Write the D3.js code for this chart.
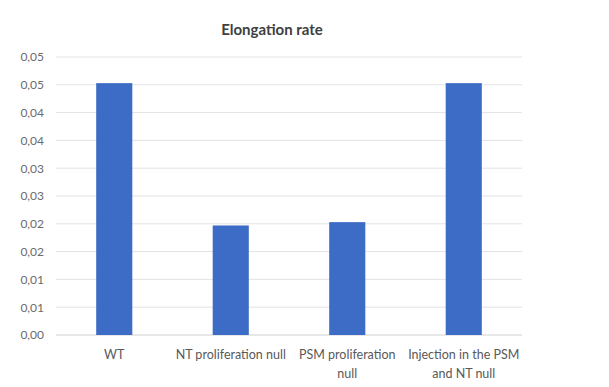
<!DOCTYPE html>
<html><head><meta charset="utf-8">
<script src="https://cdn.jsdelivr.net/npm/d3@7"></script>
<style>body{margin:0;background:#fff}svg{display:block}text{font-family:Lato,"Open Sans",sans-serif}</style>
</head><body><svg id="c" width="609" height="387"></svg>
<script>
const categories = ["WT", "NT proliferation null", "PSM proliferation null", "Injection in the PSM and NT null"];
const categoryLines = [["WT"], ["NT proliferation null"], ["PSM proliferation", "null"], ["Injection in the PSM", "and NT null"]];
const values = [0.0453, 0.0197, 0.0203, 0.0453];
const yTicks = [0, 0.005, 0.01, 0.015, 0.02, 0.025, 0.03, 0.035, 0.04, 0.045, 0.05];
const title = "Elongation rate";

const svg = d3.select("#c");
const m = {left: 56, right: 87, top: 57, bottom: 52};
const W = 609, H = 387;
const x = d3.scaleBand().domain(categories).range([m.left, W - m.right]).paddingInner(0.69).paddingOuter(0.345);
const y = d3.scaleLinear().domain([0, 0.05]).range([H - m.bottom, m.top]);
const fmt = v => (Math.round(v * 100 + 1e-9) / 100).toFixed(2).replace(".", ",");

svg.append("g").selectAll("line").data(yTicks).join("line")
  .attr("x1", m.left).attr("x2", W - m.right)
  .attr("y1", d => y(d)).attr("y2", d => y(d))
  .attr("stroke", d => d === 0 ? "#d0d0d0" : "#e3e3e3").attr("stroke-width", 1);

const yAxis = d3.axisLeft(y).tickValues(yTicks).tickFormat(fmt).tickSize(0).tickPadding(0);
const ga = svg.append("g").attr("transform", `translate(${m.left - 12},0)`).call(yAxis);
ga.select(".domain").remove();
ga.selectAll("text").attr("fill", "#6b6b6b").attr("font-size", 12);

svg.append("g").selectAll("rect").data(values).join("rect")
  .attr("x", (d, i) => x(categories[i])).attr("width", x.bandwidth())
  .attr("y", d => y(d)).attr("height", d => y(0) - y(d))
  .attr("fill", "#3d6cc6");

const xl = svg.append("g");
categoryLines.forEach((lines, i) => {
  const t = xl.append("text").attr("text-anchor", "middle").attr("fill", "#595959").attr("font-size", 12.5)
    .attr("x", x(categories[i]) + x.bandwidth() / 2).attr("y", 359);
  lines.forEach((l, j) => t.append("tspan").attr("x", x(categories[i]) + x.bandwidth() / 2).attr("dy", j ? 19 : 0).text(l));
});

svg.append("text").attr("x", 272).attr("y", 35).attr("text-anchor", "middle")
  .attr("font-size", 15).attr("font-weight", "bold").attr("fill", "#404040").text(title);
</script></body></html>
